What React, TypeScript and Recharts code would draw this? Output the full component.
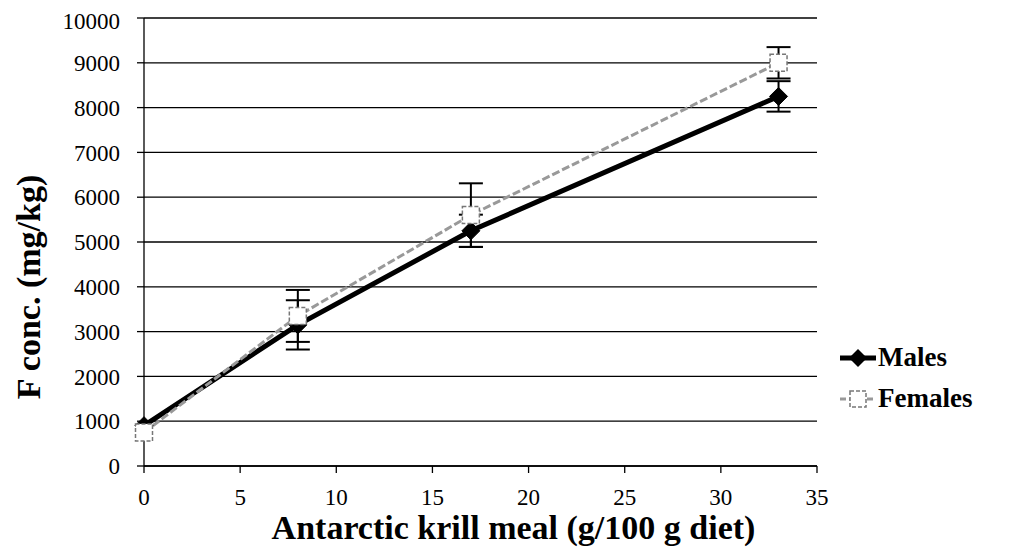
import { LineChart, Line, XAxis, YAxis, CartesianGrid, Legend, ErrorBar, Label } from 'recharts'

const krillMeal = [0, 8, 17, 33]
const males = [900, 3150, 5250, 8250]
const malesErr = [0, 550, 360, 340]
const females = [750, 3350, 5600, 9000]
const femalesErr = [0, 580, 710, 350]
const xTicks = [0, 5, 10, 15, 20, 25, 30, 35]
const yTicks = [0, 1000, 2000, 3000, 4000, 5000, 6000, 7000, 8000, 9000, 10000]

const data = krillMeal.map((x, i) => ({
  x,
  Males: males[i],
  malesErr: malesErr[i],
  Females: females[i],
  femalesErr: femalesErr[i],
}))

const FONT = '"Liberation Serif", "Times New Roman", serif'

const Diamond = (props: any) => {
  const { cx, cy, index } = props
  const r = 9
  return (
    <polygon
      key={`m-${index}`}
      points={`${cx},${cy - r} ${cx + r},${cy} ${cx},${cy + r} ${cx - r},${cy}`}
      fill="#000"
      stroke="#000"
    />
  )
}

const Square = (props: any) => {
  const { cx, cy, index } = props
  const s = 17
  return (
    <rect
      key={`f-${index}`}
      x={cx - s / 2}
      y={cy - s / 2}
      width={s}
      height={s}
      fill="#fff"
      stroke="#777"
      strokeWidth={1.5}
      strokeDasharray="4 2"
    />
  )
}

const LegendBox = () => (
  <div style={{ fontFamily: FONT, fontWeight: 'bold', fontSize: 27, color: '#000', lineHeight: 1 }}>
    <div style={{ display: 'flex', alignItems: 'center', height: 41 }}>
      <svg width={40} height={24}>
        <line x1={2} y1={12} x2={38} y2={12} stroke="#000" strokeWidth={5} />
        <polygon points="20,3 29,12 20,21 11,12" fill="#000" />
      </svg>
      <span>Males</span>
    </div>
    <div style={{ display: 'flex', alignItems: 'center', height: 41 }}>
      <svg width={40} height={24}>
        <line x1={2} y1={12} x2={38} y2={12} stroke="#999" strokeWidth={3} strokeDasharray="6 3" />
        <rect x={12} y={4} width={16} height={16} fill="#fff" stroke="#777" strokeWidth={1.5} strokeDasharray="4 2" />
      </svg>
      <span>Females</span>
    </div>
  </div>
)

const YTitle = (props: any) => {
  const { viewBox } = props
  const cx = 20
  const cy = viewBox.y + viewBox.height / 2 + 45
  return (
    <text
      x={cx}
      y={cy}
      transform={`rotate(-90, ${cx}, ${cy})`}
      textAnchor="middle"
      dominantBaseline="central"
      fontFamily={FONT}
      fontWeight="bold"
      fontSize={34}
      fill="#000"
    >
      F conc. (mg/kg)
    </text>
  )
}

const XTitle = (props: any) => {
  const { viewBox } = props
  return (
    <text
      x={viewBox.x + viewBox.width / 2 + 33}
      y={519}
      textAnchor="middle"
      dominantBaseline="central"
      fontFamily={FONT}
      fontWeight="bold"
      fontSize={34}
      fill="#000"
    >
      Antarctic krill meal (g/100 g diet)
    </text>
  )
}

export default function App() {
  return (
    <LineChart
      width={1008}
      height={540}
      data={data}
      margin={{ top: 10, right: 199, left: 6, bottom: 0 }}
      style={{ fontFamily: FONT }}
    >
      <CartesianGrid horizontal vertical={false} stroke="#000" strokeWidth={1.3} />
      <XAxis
        dataKey="x"
        type="number"
        domain={[0, 35]}
        ticks={xTicks}
        height={82}
        tickSize={7}
        tickMargin={16}
        tick={{ fontSize: 23, fill: '#000', fontFamily: FONT }}
        axisLine={{ stroke: '#000', strokeWidth: 1.3 }}
        tickLine={{ stroke: '#000', strokeWidth: 1.3 }}
      >
        <Label content={<XTitle />} />
      </XAxis>
      <YAxis
        type="number"
        domain={[0, 10000]}
        ticks={yTicks}
        width={130}
        tickSize={7}
        tickMargin={17}
        tick={{ fontSize: 23, fill: '#000', fontFamily: FONT }}
        axisLine={{ stroke: '#000', strokeWidth: 1.3 }}
        tickLine={{ stroke: '#000', strokeWidth: 1.3 }}
      >
        <Label content={<YTitle />} />
      </YAxis>
      <Legend
        layout="vertical"
        align="center"
        verticalAlign="middle"
        content={<LegendBox />}
        wrapperStyle={{ left: 830, top: 329, width: 190 }}
      />
      <Line
        dataKey="Males"
        stroke="#000"
        strokeWidth={5}
        dot={<Diamond />}
        activeDot={false}
        isAnimationActive={false}
      >
        <ErrorBar dataKey="malesErr" width={12} strokeWidth={2} stroke="#000" direction="y" />
      </Line>
      <Line
        dataKey="Females"
        stroke="#999"
        strokeWidth={3}
        strokeDasharray="8 3"
        dot={<Square />}
        activeDot={false}
        isAnimationActive={false}
      >
        <ErrorBar dataKey="femalesErr" width={12} strokeWidth={2} stroke="#000" direction="y" />
      </Line>
    </LineChart>
  )
}
